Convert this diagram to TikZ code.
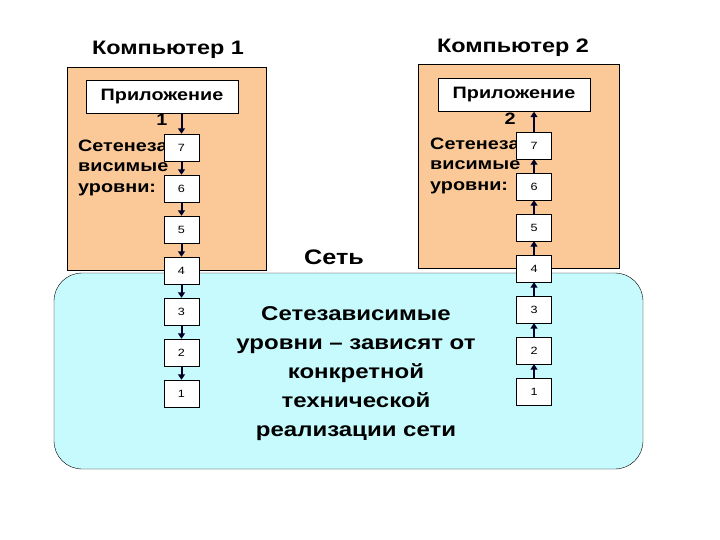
\documentclass[tikz,border=0pt]{standalone}
\usepackage{fontspec}
\setmainfont{Liberation Sans}[FakeStretch=1.2]
\usetikzlibrary{arrows.meta}

\definecolor{peach}{RGB}{251,201,152}
\definecolor{aqua}{RGB}{198,250,252}

\begin{document}
\begin{tikzpicture}[x=1pt,y=-1pt,
    compbox/.style={draw,fill=peach,minimum width=199pt,minimum height=203pt,inner sep=0pt},
    netbox/.style={draw,fill=aqua,rounded corners=28pt,minimum width=589pt,minimum height=196pt,inner sep=0pt},
    appbox/.style={draw,fill=white,minimum width=152pt,minimum height=33pt,inner sep=0pt,font=\fontsize{16.5}{19}\selectfont\bfseries},
    lvl/.style={draw,fill=white,minimum width=35pt,minimum height=27pt,inner sep=0pt,font=\fontsize{10.5}{12}\selectfont},
    sidetext/.style={align=left,anchor=west,inner sep=0pt,font=\fontsize{16.5}{20.5}\selectfont\bfseries},
    heading/.style={inner sep=0pt,font=\fontsize{19.5}{22}\selectfont\bfseries},
    flow/.style={-{Triangle[length=5.5pt,width=7pt]},line width=2pt,draw=black!85!blue}]
    \useasboundingbox (0,0) rectangle (720,540);

    \node[compbox] (comp1) at (166.5,168.5) {};
    \node[compbox,minimum width=201pt,minimum height=204pt] (comp2) at (518.5,166) {};
    \node[netbox] (net) at (348.5,371) {};

    \node[heading] (title1) at (168,50) {Компьютер 1};
    \node[heading] (title2) at (513,48) {Компьютер 2};

    \node[appbox] (app1) at (162,96.5) {Приложение};
    \node[heading,font=\fontsize{16.5}{19}\selectfont\bfseries,anchor=north,inner sep=1pt] (num1) at (app1.south) {1};
    \node[appbox] (app2) at (514,95) {Приложение};
    \node[heading,font=\fontsize{16.5}{19}\selectfont\bfseries,anchor=north,inner sep=1pt] (num2) at (510,112) {2};

    \node[sidetext] (dep1) at (78,167.5) {Сетенеза\\висимые\\уровни:};
    \node[sidetext] (dep2) at (430,165.5) {Сетенеза-\\висимые\\уровни:};

    \foreach \k in {1,...,7} {
        \node[lvl] (l\k) at (181.5,{147.5+41*(7-\k)}) {\k};
        \node[lvl] (r\k) at (534,{145.5+41*(7-\k)}) {\k};
    }

    \draw[flow] (l7.north |- app1.south) -- (l7.north);
    \draw[flow] (r7.north) -- (r7.north |- app2.south);
    \foreach \a/\b in {7/6,6/5,5/4,4/3,3/2,2/1} {
        \draw[flow] (l\a) -- (l\b);
        \draw[flow] (r\b) -- (r\a);
    }

    \node[heading,font=\fontsize{21}{24}\selectfont\bfseries] (netname) at (334,257) {Сеть};
    \node[align=center,inner sep=0pt,font=\fontsize{20}{29}\selectfont\bfseries] (netdesc) at (356,373.5)
        {Сетезависимые\\уровни – зависят от\\конкретной\\технической\\реализации сети};
\end{tikzpicture}
\end{document}
